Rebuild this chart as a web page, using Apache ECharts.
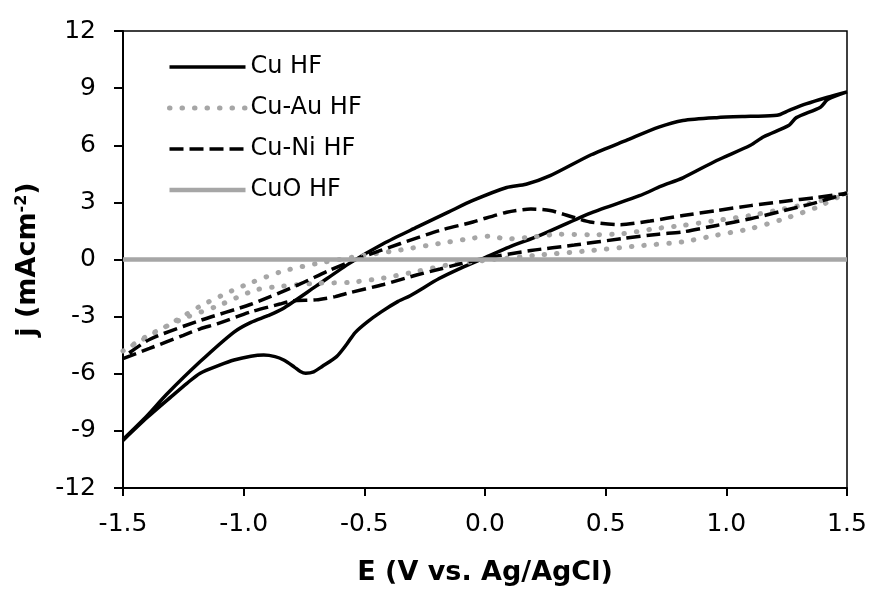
<!DOCTYPE html>
<html>
<head>
<meta charset="utf-8">
<script src="https://cdn.jsdelivr.net/npm/echarts@6/dist/echarts.min.js"></script>
<style>
html,body{margin:0;padding:0;background:#fff;}
#chart{width:870px;height:591px;}
</style>
</head>
<body>
<div id="chart"></div>
<script>
// ---- Data (E in V vs Ag/AgCl, j in mA cm^-2), loops traced in scan order ----
const seriesNames = ['Cu HF', 'Cu-Au HF', 'Cu-Ni HF', 'CuO HF'];

const cuE = [-1.5,-1.40,-1.30,-1.235,-1.18,-1.10,-1.04,-0.97,-0.917,-0.87,-0.834,-0.79,-0.765,-0.743,-0.71,-0.675,-0.615,-0.573,-0.539,-0.49,-0.43,-0.36,-0.31,-0.19,-0.10,0.0,0.10,0.23,0.44,0.64,0.73,0.82,0.96,1.10,1.155,1.26,1.29,1.39,1.42,1.5,
  1.42,1.33,1.26,1.21,1.10,0.96,0.82,0.72,0.59,0.44,0.27,0.17,0.09,-0.05,-0.15,-0.28,-0.42,-0.56,-0.70,-0.84,-0.90,-0.97,-1.04,-1.18,-1.32,-1.40,-1.5];
const cuJ = [-9.5,-8.3,-7.2,-6.5,-5.97,-5.55,-5.28,-5.08,-5.02,-5.1,-5.28,-5.65,-5.88,-5.97,-5.9,-5.62,-5.10,-4.45,-3.85,-3.3,-2.75,-2.2,-1.9,-1.0,-0.45,0.1,0.65,1.28,2.45,3.35,3.85,4.29,5.2,6.0,6.45,7.05,7.45,8.0,8.4,8.8,
  8.52,8.17,7.83,7.57,7.52,7.45,7.3,6.95,6.28,5.5,4.4,3.95,3.78,3.1,2.5,1.71,0.84,-0.19,-1.4,-2.6,-2.95,-3.3,-3.81,-5.36,-7.09,-8.2,-9.45];

const cuAuE = [-1.5,-1.39,-1.25,-1.11,-0.95,-0.84,-0.70,-0.56,-0.42,-0.28,-0.15,0.02,0.23,0.44,0.64,0.82,0.96,1.10,1.24,1.375,1.46,1.5,
  1.375,1.236,1.10,0.96,0.82,0.705,0.573,0.435,0.31,0.20,0.09,0.02,-0.05,-0.19,-0.35,-0.53,-0.70,-0.84,-0.97,-1.05,-1.18,-1.32,-1.46,-1.5];
const cuAuJ = [-4.8,-3.95,-3.1,-2.45,-1.6,-1.4,-1.25,-1.2,-0.97,-0.62,-0.28,-0.02,0.24,0.47,0.72,0.93,1.28,1.62,2.14,2.74,3.26,3.48,
  3.03,2.65,2.31,2.05,1.79,1.62,1.36,1.3,1.33,1.19,1.08,1.23,1.12,0.84,0.5,0.16,-0.22,-0.62,-1.22,-1.65,-2.45,-3.5,-4.5,-4.75];

const cuNiE = [-1.5,-1.39,-1.25,-1.18,-1.11,-0.97,-0.85,-0.794,-0.70,-0.62,-0.56,-0.42,-0.28,-0.186,-0.145,0.0,0.19,0.37,0.57,0.72,0.82,0.96,1.10,1.24,1.375,1.5,
  1.375,1.236,1.10,0.96,0.82,0.684,0.56,0.435,0.366,0.27,0.19,0.09,-0.05,-0.186,-0.35,-0.52,-0.65,-0.77,-0.97,-1.18,-1.39,-1.5];
const cuNiJ = [-5.2,-4.67,-3.98,-3.64,-3.38,-2.75,-2.34,-2.17,-2.12,-1.95,-1.74,-1.31,-0.8,-0.5,-0.36,0.07,0.47,0.76,1.1,1.33,1.45,1.79,2.14,2.57,3.0,3.48,
  3.26,3.05,2.83,2.57,2.31,2.02,1.83,1.97,2.22,2.57,2.65,2.48,1.97,1.53,0.84,0.07,-0.6,-1.31,-2.35,-3.2,-4.2,-5.15];

const cuoE = [-1.5,-1.0,-0.5,0.0,0.5,1.0,1.5];
const cuoJ = [0,0,0,0,0,0,0];

const xTicks = {min:-1.5, max:1.5, step:0.5};
const yTicks = {min:-12, max:12, step:3};

function pairs(xs, ys){ return xs.map((x,i)=>[x, ys[i]]); }

const FONT = '"DejaVu Sans", "Liberation Sans", Arial, sans-serif';
const GRAY = '#a6a6a6';

const styles = [
  {color:'#000', width:3.5, type:'solid'},
  {color:GRAY, width:5, type:[0.5,12], cap:'round'},
  {color:'#000', width:3.5, type:[14,6]},
  {color:GRAY, width:4.5, type:'solid'}
];
const dataSets = [pairs(cuE,cuJ), pairs(cuAuE,cuAuJ), pairs(cuNiE,cuNiJ), pairs(cuoE,cuoJ)];

const chart = echarts.init(document.getElementById('chart'), null, {renderer:'canvas'});
chart.setOption({
  animation:false,
  backgroundColor:'#ffffff',
  textStyle:{fontFamily:FONT},
  grid:{left:123, right:23, top:31, bottom:96, show:true, borderColor:'#000', borderWidth:1.5, backgroundColor:'transparent'},
  legend:{
    orient:'vertical', left:167, top:55, padding:0,
    itemWidth:76, itemHeight:14, itemGap:17,
    itemStyle:{opacity:0},
    textStyle:{fontFamily:FONT, fontSize:24, color:'#000', lineHeight:24},
    data:seriesNames.map((n,i)=>({name:n, lineStyle:Object.assign({}, styles[i]), itemStyle:{opacity:0}}))
  },
  xAxis:{
    type:'value', min:xTicks.min, max:xTicks.max, interval:xTicks.step,
    name:'E (V vs. Ag/AgCl)', nameLocation:'middle', nameGap:71,
    nameTextStyle:{fontFamily:FONT, fontSize:27, fontWeight:'bold', color:'#000'},
    axisLine:{onZero:false, lineStyle:{color:'#000', width:2}},
    axisTick:{show:true, length:8, lineStyle:{color:'#000', width:2}},
    axisLabel:{fontFamily:FONT, fontSize:25, color:'#000', margin:24, formatter:v=>v.toFixed(1)},
    splitLine:{show:false}
  },
  yAxis:{
    type:'value', min:yTicks.min, max:yTicks.max, interval:yTicks.step,
    name:'j (mAcm{sup|-2})', nameLocation:'middle', nameGap:81,
    nameTextStyle:{fontFamily:FONT, fontSize:27, fontWeight:'bold', color:'#000',
      rich:{sup:{fontFamily:FONT, fontSize:16, fontWeight:'bold', color:'#000', verticalAlign:'top', padding:[0,0,12,0]}}},
    axisLine:{onZero:false, lineStyle:{color:'#000', width:2}},
    axisTick:{show:true, length:9, lineStyle:{color:'#000', width:2}},
    axisLabel:{fontFamily:FONT, fontSize:25, color:'#000', margin:27},
    splitLine:{show:false}
  },
  series:seriesNames.map((n,i)=>({
    name:n, type:'line', data:dataSets[i], symbol:'none', smooth:(i===3?false:0.25),
    lineStyle:styles[i], itemStyle:{color:styles[i].color}
  }))
});
</script>
</body>
</html>
